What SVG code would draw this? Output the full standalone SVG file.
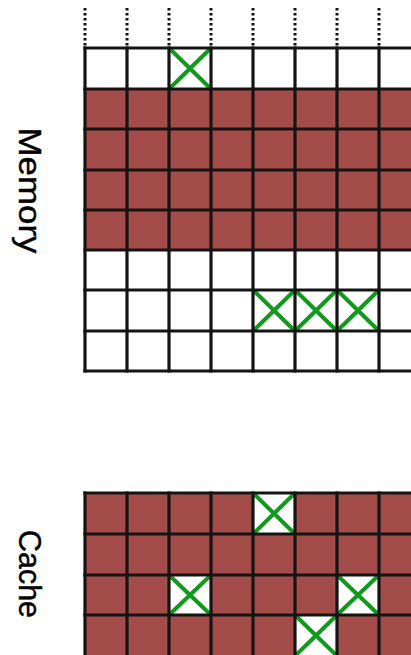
<svg xmlns="http://www.w3.org/2000/svg" width="411" height="655" viewBox="0 0 411 655">
<style>
.bg{fill:#ffffff}
.fill{fill:#a44c4a}
.white{fill:#ffffff}
.grid{stroke:#141414;stroke-width:3.2;fill:none;stroke-linecap:square}
.dots{stroke:#141414;stroke-width:3;stroke-dasharray:2.6 2.4;fill:none}
.x{stroke:#0f9a1b;stroke-width:4;fill:none}
.label{font-family:"Liberation Sans",Arial,sans-serif;font-size:32px;fill:#000;stroke:#000;stroke-width:0.4}
</style>
<rect class="bg" x="0" y="0" width="411" height="655"/>
<g id="memory-label"><text class="label" transform="translate(18.5,190.5) rotate(90)" text-anchor="middle" textLength="126" lengthAdjust="spacingAndGlyphs">Memory</text></g>
<g id="cache-label"><text class="label" transform="translate(18.5,574) rotate(90)" text-anchor="middle" textLength="88" lengthAdjust="spacingAndGlyphs">Cache</text></g>
<g id="memory">
<rect class="fill" x="85" y="89" width="330" height="161"/>
<g class="dots">
<path d="M85 8V46M127 8V46M169 8V46M211 8V46M253 8V46M295 8V46M337 8V46M379 8V46"/>
</g>
<g class="x">
<path d="M169 48L211 89M211 48L169 89"/>
<path d="M253 290L295 331M295 290L253 331M295 290L337 331M337 290L295 331M337 290L379 331M379 290L337 331"/>
</g>
<g class="grid">
<path d="M85 48H420M85 89H420M85 129H420M85 170H420M85 210H420M85 250H420M85 290H420M85 331H420M85 371H420"/>
<path d="M85 48V371M127 48V371M169 48V371M211 48V371M253 48V371M295 48V371M337 48V371M379 48V371"/>
</g>
</g>
<g id="cache">
<rect class="fill" x="85" y="493" width="330" height="165"/>
<rect class="white" x="253" y="493" width="42" height="41"/>
<rect class="white" x="169" y="575" width="42" height="40"/>
<rect class="white" x="337" y="575" width="42" height="40"/>
<rect class="white" x="295" y="615" width="42" height="41"/>
<g class="x">
<path d="M253 493L295 534M295 493L253 534"/>
<path d="M169 575L211 615M211 575L169 615"/>
<path d="M337 575L379 615M379 575L337 615"/>
<path d="M295 615L337 656M337 615L295 656"/>
</g>
<g class="grid">
<path d="M85 493H420M85 534H420M85 575H420M85 615H420"/>
<path d="M85 493V660M127 493V660M169 493V660M211 493V660M253 493V660M295 493V660M337 493V660M379 493V660"/>
</g>
</g>
</svg>
